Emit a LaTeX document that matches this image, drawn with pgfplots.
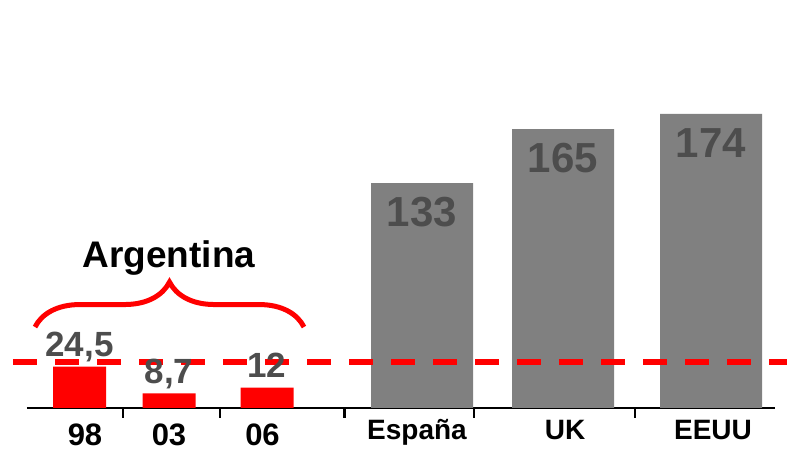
\documentclass[border=0pt]{standalone}
\usepackage{fontspec}
\setmainfont{Liberation Sans}
\usepackage{pgfplots}
\usepackage{pgfplotstable}
\pgfplotsset{compat=1.18}
\usetikzlibrary{decorations.pathreplacing}

\definecolor{barred}{HTML}{FF0000}
\definecolor{bargray}{HTML}{808080}
\definecolor{valgray}{HTML}{4D4D4D}

% Argentina, by year (bar centres in axis units)
\pgfplotstableread{
x     y     label
79.5  24.5  {24,5}
169   8.7   {8,7}
267   12    {12}
}\argentina

% Other countries
\pgfplotstableread{
x     y     label
422   133   {133}
563   165   {165}
711   174   {174}
}\countries

\begin{document}
\begin{tikzpicture}
\begin{axis}[
  name=ax,
  at={(0,0)}, anchor=south west,
  width=748pt, height=408pt, scale only axis,
  xmin=27, xmax=775, ymin=0, ymax=241.4,
  clip=false,
  axis y line=none,
  axis x line=bottom,
  x axis line style={-, black, line width=2.5pt},
  xtick={85,169,262.5},
  xticklabels={98,03,06},
  major tick length=0pt,
  minor xtick={123,220,344.5,474,635},
  minor tick length=10pt,
  tick align=outside,
  minor x tick style={black, line width=2.5pt},
  xticklabel style={font=\bfseries\fontsize{31}{31}\selectfont, anchor=base, yshift=-38pt},
  extra x ticks={417,565,713},
  extra x tick labels={España,UK,EEUU},
  extra x tick style={major tick length=0pt,
    xticklabel style={font=\bfseries\fontsize{28}{28}\selectfont, yshift=6pt}},
]
% country bars, value printed inside near the top
\addplot[ybar, bar width=102, bar shift=0pt, fill=bargray, draw=none,
  point meta=explicit symbolic, nodes near coords,
  every node near coord/.append style={anchor=north, yshift=-14pt, inner sep=0pt,
    text=valgray, font=\bfseries\fontsize{42}{42}\selectfont}]
  table[x=x, y=y, meta=label] {\countries};

% reference level
\addplot[barred, line width=6pt, dash pattern=on 24pt off 18pt, forget plot]
  coordinates {(13,27.2) (787,27.2)};

% Argentina bars, value printed above
\addplot[ybar, bar width=53, bar shift=0pt, fill=barred, draw=none,
  point meta=explicit symbolic, nodes near coords,
  every node near coord/.append style={anchor=base, yshift=10pt, inner sep=0pt,
    text=valgray, font=\bfseries\fontsize{35}{35}\selectfont}]
  table[x=x, y=y, meta=label] {\argentina};

% group brace and title
\draw[barred, line width=5pt, decorate, decoration={brace, amplitude=45pt}]
  (axis cs:35,47.9) -- (axis cs:304,47.9);
\node[font=\bfseries\fontsize{37}{37}\selectfont, anchor=base]
  at (axis cs:169,83.4) {Argentina};
\end{axis}
\pgfresetboundingbox
\path[use as bounding box] ([xshift=-27pt,yshift=-43pt]ax.south west)
  rectangle ([xshift=12pt]ax.north east);
\end{tikzpicture}
\end{document}
